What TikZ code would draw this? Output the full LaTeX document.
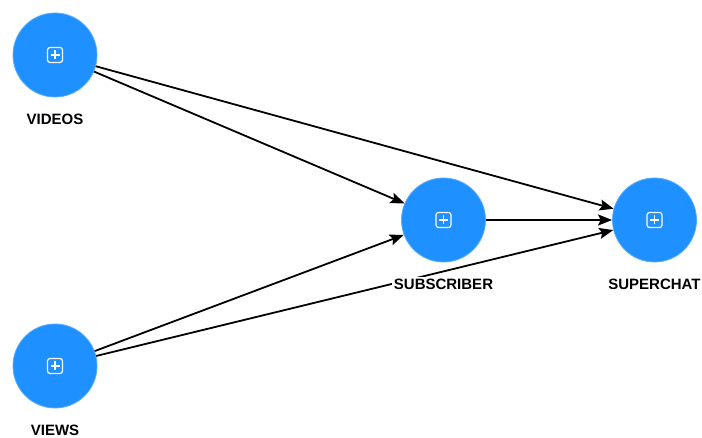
\documentclass[tikz,border=0pt]{standalone}
\usepackage{fontspec}
\setmainfont{Liberation Sans}
\usetikzlibrary{positioning,arrows.meta}
\definecolor{nodeblue}{RGB}{30,144,255}

\begin{document}
\begin{tikzpicture}[x=1pt,y=-1pt,
		latent/.style={circle, fill=nodeblue, draw=nodeblue!75!white, line width=0.8pt, minimum size=84pt, inner sep=0pt},
		caption/.style={rectangle, fill=white, inner sep=2pt, font=\fontsize{15}{17}\selectfont\bfseries},
		expandicon/.pic={
			\draw[white, line width=1.2pt, rounded corners=2.5pt] (-7.5,-7.5) rectangle (7.5,7.5);
			\draw[white, line width=1.2pt] (-4.5,0) -- (4.5,0) (0,-4.5) -- (0,4.5);
		}
	]
	\useasboundingbox (0,0) rectangle (702,438);
	\node[latent] (videos) at (55,55) {};
	\node[latent] (views) at (55,366) {};
	\node[latent] (subscriber) at (443.5,220) {};
	\node[latent] (superchat) at (654.5,220) {};
	\pic at (videos) {expandicon};
	\pic at (views) {expandicon};
	\pic at (subscriber) {expandicon};
	\pic at (superchat) {expandicon};
	\begin{scope}[line width=1.8pt, -{Stealth[length=14pt, width=11pt, inset=2.5pt]}]
	\draw (videos) -- (subscriber);
	\draw (videos) -- (superchat);
	\draw (views) -- (subscriber);
	\draw (views) -- (superchat);
	\draw (subscriber) -- (superchat);
	\end{scope}
	\node[caption] (videoslabel) [below=14pt of videos] {VIDEOS};
	\node[caption] (viewslabel) [below=14pt of views] {VIEWS};
	\node[caption] (subscriberlabel) [below=14pt of subscriber] {SUBSCRIBER};
	\node[caption] (superchatlabel) [below=14pt of superchat] {SUPERCHAT};
\end{tikzpicture}
\end{document}
